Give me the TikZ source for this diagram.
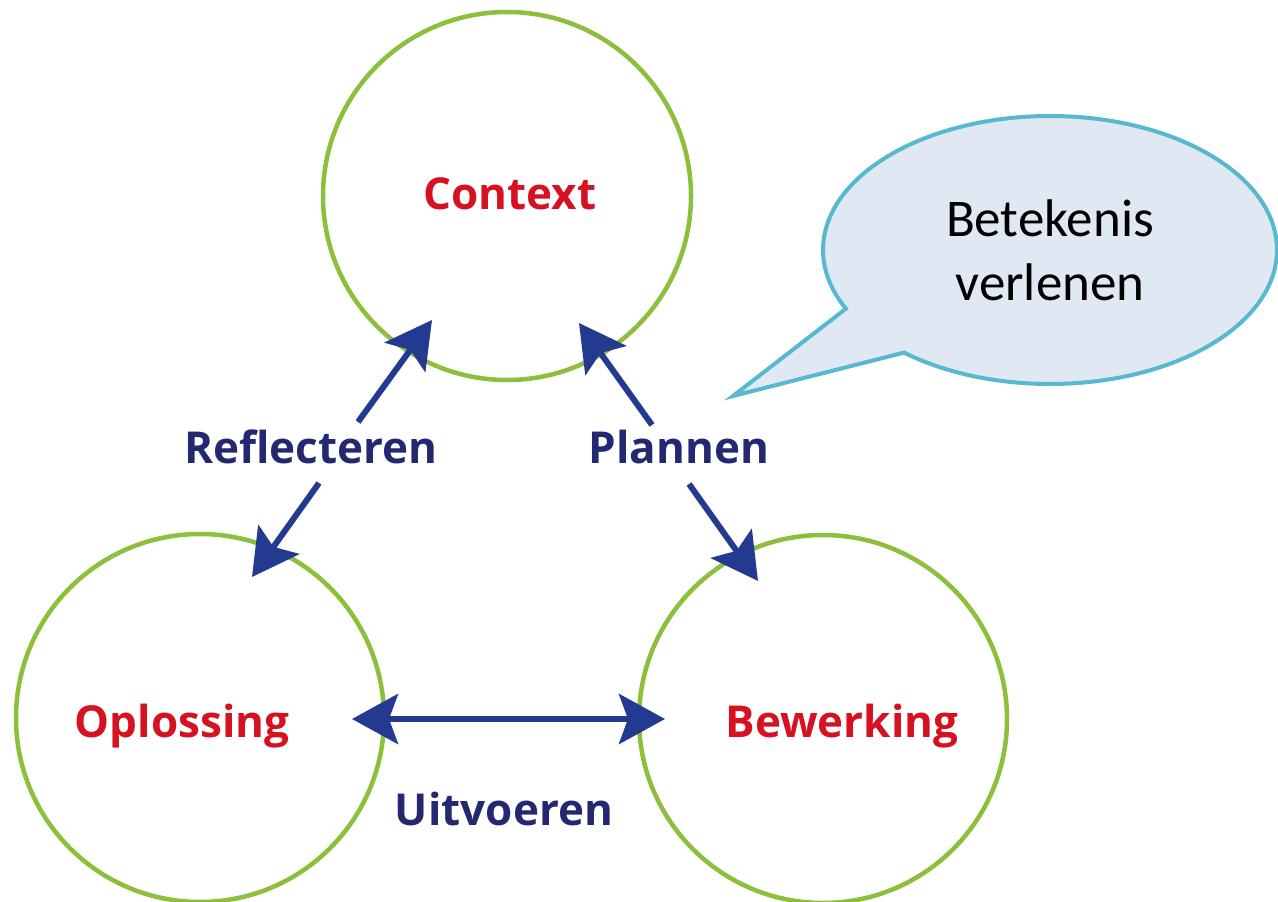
\documentclass[tikz,border=0pt]{standalone}
\usepackage{fontspec}
\setmainfont{Open Sans}
\newfontfamily\bubblefont{Carlito}
\usepackage{xcolor}
\usepackage{tikz}
\usetikzlibrary{arrows.meta}
\usetikzlibrary{shapes.callouts}

\definecolor{ringgreen}{RGB}{141,190,60}
\definecolor{phasered}{RGB}{214,18,32}
\definecolor{actionblue}{RGB}{36,40,112}
\definecolor{arrowblue}{RGB}{36,58,145}
\definecolor{bubblefill}{RGB}{223,232,243}
\definecolor{bubbleline}{RGB}{88,184,208}

\begin{document}
\begin{tikzpicture}[x=1pt, y=-1pt, >={Stealth[length=46pt, width=50pt, inset=9pt]}]
    \tikzstyle{ring}=[circle, draw=ringgreen, line width=4.5pt, minimum size=368pt, inner sep=0pt]
    \tikzstyle{phase}=[anchor=base, text=phasered, font=\fontsize{44}{52}\selectfont\bfseries]
    \tikzstyle{action}=[anchor=base, text=actionblue, font=\fontsize{44}{52}\selectfont\bfseries]
    \tikzstyle{link}=[->, draw=arrowblue, line width=6pt]

    \useasboundingbox (0,0) rectangle (1278,902);

    % de drie cirkels
    \node[ring] (context) at (507,196) {};
    \node[ring] (oplossing) at (200,718) {};
    \node[ring] (bewerking) at (823,719) {};

    \node[phase] (contextTxt) at (510,209) {Context};
    \node[phase] (oplossingTxt) at (182,737) {Oplossing};
    \node[phase] (bewerkingTxt) at (842,737) {Bewerking};

    % acties tussen de fasen
    \node[action] (reflecteren) at (311,463) {Reflecteren};
    \node[action] (plannen) at (679,463) {Plannen};
    \node[action] (uitvoeren) at (504,825) {Uitvoeren};

    \coordinate (reflUp) at (358,422);
    \coordinate (reflUpTip) at (432,320);
    \coordinate (reflDown) at (319,483);
    \coordinate (reflDownTip) at (252,577);
    \coordinate (planUp) at (652,425);
    \coordinate (planUpTip) at (579,323);
    \coordinate (planDown) at (689,484);
    \coordinate (planDownTip) at (758,581);
    \coordinate (uitvLeft) at (352,719);
    \coordinate (uitvRight) at (665,719);

    \draw[link] (reflUp) -- (reflUpTip);
    \draw[link] (reflDown) -- (reflDownTip);
    \draw[link] (planUp) -- (planUpTip);
    \draw[link] (planDown) -- (planDownTip);
    \draw[link, <->] (uitvLeft) -- (uitvRight);

    % tekstballon
    \node[ellipse callout, draw=bubbleline, fill=bubblefill, line width=4pt,
          minimum width=454pt, minimum height=268pt, inner sep=0pt,
          callout absolute pointer={(733,396)}, callout pointer arc=24,
          align=center, font=\bubblefont\fontsize{53}{64}\selectfont]
          (ballon) at (1050,250) {Betekenis\\verlenen};
\end{tikzpicture}
\end{document}
